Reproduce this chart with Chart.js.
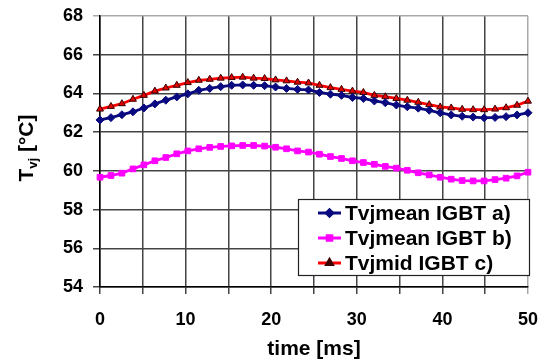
<!DOCTYPE html>
<html>
<head>
<meta charset="utf-8">
<script src="https://cdn.jsdelivr.net/npm/chart.js@4"></script>
<style>
  body { margin: 0; background: #fff; }
  #wrap { width: 545px; height: 363px; }
</style>
</head>
<body>
<div id="wrap"><canvas id="tvjChart" width="545" height="363"></canvas></div>
<script>
// time axis in ms (40 samples over one 50 ms period)
const times = [0, 1.28, 2.56, 3.85, 5.13, 6.41, 7.69, 8.97, 10.26, 11.54,
  12.82, 14.1, 15.38, 16.67, 17.95, 19.23, 20.51, 21.79, 23.08, 24.36,
  25.64, 26.92, 28.21, 29.49, 30.77, 32.05, 33.33, 34.62, 35.9, 37.18,
  38.46, 39.74, 41.03, 42.31, 43.59, 44.87, 46.15, 47.44, 48.72, 50];

// Tvj values in °C
const tvjMeanA = [62.63, 62.75, 62.9, 63.05, 63.25, 63.46, 63.65, 63.82, 63.98, 64.16,
  64.26, 64.35, 64.42, 64.44, 64.42, 64.4, 64.33, 64.26, 64.21, 64.18,
  64.05, 63.96, 63.9, 63.79, 63.74, 63.61, 63.52, 63.4, 63.31, 63.24,
  63.13, 63.0, 62.89, 62.82, 62.78, 62.74, 62.76, 62.8, 62.89, 63.0];
const tvjMeanB = [59.67, 59.76, 59.88, 60.1, 60.31, 60.52, 60.69, 60.88, 61.03, 61.14,
  61.21, 61.26, 61.29, 61.31, 61.31, 61.28, 61.22, 61.14, 61.03, 60.97,
  60.86, 60.74, 60.64, 60.52, 60.43, 60.34, 60.23, 60.14, 60.03, 59.9,
  59.79, 59.67, 59.57, 59.5, 59.48, 59.48, 59.55, 59.62, 59.74, 59.93];
const tvjMidC = [63.19, 63.33, 63.47, 63.7, 63.9, 64.12, 64.28, 64.42, 64.56, 64.68,
  64.73, 64.79, 64.82, 64.84, 64.79, 64.77, 64.7, 64.65, 64.58, 64.54,
  64.42, 64.3, 64.21, 64.12, 64.05, 63.9, 63.83, 63.74, 63.65, 63.54,
  63.42, 63.3, 63.25, 63.18, 63.16, 63.16, 63.19, 63.26, 63.39, 63.6];

const seriesNames = ['Tvjmean IGBT a)', 'Tvjmean IGBT b)', 'Tvjmid IGBT c)'];

const toPoints = vals => vals.map((v, i) => ({ x: times[i], y: v }));

const FONT = "'Liberation Sans', Arial, sans-serif";

// y title with subscript + legend box inside the plot
const extrasPlugin = {
  id: 'extras',
  afterDraw(chart) {
    const ctx = chart.ctx;
    ctx.save();
    ctx.fillStyle = '#000';
    // rotated y axis title "T_vj [°C]"
    ctx.translate(27, 148);
    ctx.rotate(-Math.PI / 2);
    ctx.textBaseline = 'middle';
    const bigFont = 'bold 21px ' + FONT;
    const subFont = 'bold 13px ' + FONT;
    ctx.font = bigFont;
    const wT = ctx.measureText('T').width;
    const wRest = ctx.measureText(' [°C]').width;
    ctx.font = subFont;
    const wSub = ctx.measureText('vj').width;
    let x = -(wT + wSub + wRest) / 2;
    ctx.font = bigFont;
    ctx.fillText('T', x, 0);
    x += wT;
    ctx.font = subFont;
    ctx.fillText('vj', x, 6);
    x += wSub;
    ctx.font = bigFont;
    ctx.fillText(' [°C]', x, 0);
    ctx.restore();

    // legend
    ctx.save();
    const bx = 298, by = 199, bw = 231, bh = 76;
    ctx.fillStyle = '#fff';
    ctx.fillRect(bx, by, bw, bh);
    ctx.strokeStyle = '#222';
    ctx.lineWidth = 1.2;
    ctx.strokeRect(bx + 0.5, by + 0.5, bw, bh);
    ctx.font = 'bold 21px ' + FONT;
    ctx.textBaseline = 'middle';
    chart.data.datasets.forEach((ds, i) => {
      const y = by + 14 + i * 25;
      ctx.strokeStyle = ds.borderColor;
      ctx.lineWidth = 3;
      ctx.beginPath();
      ctx.moveTo(318, y);
      ctx.lineTo(341, y);
      ctx.stroke();
      ctx.fillStyle = ds.pointBackgroundColor;
      ctx.strokeStyle = ds.pointBorderColor;
      Chart.helpers.drawPoint(ctx, {
        pointStyle: ds.pointStyle,
        radius: ds.pointRadius * 0.8,
        borderWidth: ds.pointBorderWidth
      }, 329.5, y);
      ctx.fillStyle = '#000';
      ctx.fillText(ds.label, 345, y + 1);
    });
    ctx.restore();
  }
};

const ctx = document.getElementById('tvjChart').getContext('2d');
const tvjChart = new Chart(ctx, {
  type: 'line',
  data: {
    datasets: [{
      label: seriesNames[0],
      data: toPoints(tvjMeanA),
      borderColor: '#0a0a80',
      backgroundColor: '#0a0a80',
      pointStyle: 'rectRot',
      pointRadius: 4,
      pointBorderColor: '#0a0a80',
      pointBackgroundColor: '#0a0a80',
      pointBorderWidth: 1,
      borderWidth: 2.8
    }, {
      label: seriesNames[1],
      data: toPoints(tvjMeanB),
      borderColor: '#ff00ff',
      backgroundColor: '#ff00ff',
      pointStyle: 'rect',
      pointRadius: 4,
      pointBorderColor: '#ff00ff',
      pointBackgroundColor: '#ff00ff',
      pointBorderWidth: 1,
      borderWidth: 2.8
    }, {
      label: seriesNames[2],
      data: toPoints(tvjMidC),
      borderColor: '#ff0000',
      backgroundColor: '#ff0000',
      pointStyle: 'triangle',
      pointRadius: 4,
      pointBorderColor: '#3a0000',
      pointBackgroundColor: '#e00000',
      pointBorderWidth: 1,
      borderWidth: 2.8
    }]
  },
  options: {
    responsive: false,
    animation: false,
    devicePixelRatio: 1,
    layout: { padding: { top: 16, right: 17, left: 0, bottom: 0 } },
    elements: { line: { tension: 0 } },
    datasets: { line: { clip: false } },
    plugins: {
      legend: { display: false },
      tooltip: { enabled: false }
    },
    scales: {
      x: {
        type: 'linear',
        min: 0,
        max: 50,
        afterFit: s => { s.height = 76; s.paddingLeft = 0; s.paddingRight = 0; },
        ticks: {
          stepSize: 5,
          autoSkip: false,
          maxRotation: 0,
          padding: 15,
          color: '#000',
          font: { family: FONT, size: 18, weight: 'bold' },
          callback: v => (v % 10 === 0 ? v : '')
        },
        grid: {
          color: c => (c.tick && c.tick.value === 50 ? '#aaa' : '#444'),
          lineWidth: 1.5,
          tickLength: 7
        },
        border: { color: '#000', width: 1.5 },
        title: {
          display: true,
          text: 'time [ms]',
          color: '#000',
          font: { family: FONT, size: 21, weight: 'bold' },
          padding: { top: 0, bottom: 1 }
        }
      },
      y: {
        min: 54,
        max: 68,
        afterFit: s => { s.width = 100; s.paddingTop = 0; s.paddingBottom = 0; },
        ticks: {
          stepSize: 2,
          padding: 10,
          color: '#000',
          font: { family: FONT, size: 18, weight: 'bold' }
        },
        grid: {
          color: c => (c.tick && c.tick.value === 68 ? '#aaa' : '#444'),
          lineWidth: 1.5,
          tickLength: 7
        },
        border: { color: '#000', width: 1.5 }
      }
    }
  },
  plugins: [extrasPlugin]
});
</script>
</body>
</html>
